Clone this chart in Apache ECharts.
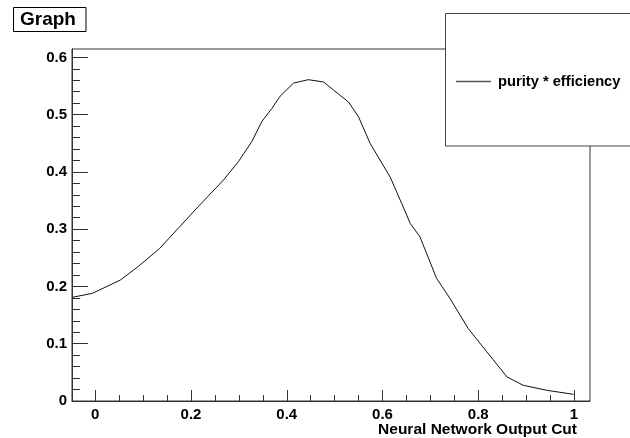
<!DOCTYPE html>
<html>
<head>
<meta charset="utf-8">
<script src="https://cdn.jsdelivr.net/npm/echarts@6/dist/echarts.min.js"></script>
<style>
  html, body { margin: 0; padding: 0; background: #fff; }
  #main { width: 630px; height: 438px; }
</style>
</head>
<body>
<div id="main"></div>
<script>
// curve
var cutValues = [-0.048, -0.006, 0.052, 0.090, 0.134, 0.176, 0.218, 0.268, 0.299, 0.327,
  0.348, 0.369, 0.386, 0.414, 0.445, 0.477, 0.4975, 0.529, 0.550, 0.574,
  0.591, 0.616, 0.640, 0.658, 0.678, 0.692, 0.713, 0.741, 0.779, 0.818,
  0.860, 0.894, 0.943, 0.999]
var purityEff = [0.181, 0.188, 0.211, 0.235, 0.266, 0.304, 0.342, 0.386, 0.418, 0.453,
  0.488, 0.511, 0.532, 0.555, 0.561, 0.557, 0.543, 0.522, 0.496, 0.450,
  0.426, 0.391, 0.345, 0.310, 0.287, 0.258, 0.214, 0.179, 0.1265, 0.0857,
  0.042, 0.0274, 0.0187, 0.0117]

var xTicks = [0, 0.2, 0.4, 0.6, 0.8, 1]
var xMinorTicks = [0.05, 0.1, 0.15, 0.25, 0.3, 0.35, 0.45, 0.5, 0.55, 0.65, 0.7, 0.75, 0.85, 0.9, 0.95]
var yTicks = [0, 0.1, 0.2, 0.3, 0.4, 0.5, 0.6]
var yMinorTicks = [0.02, 0.04, 0.06, 0.08, 0.12, 0.14, 0.16, 0.18, 0.22, 0.24, 0.26, 0.28,
  0.32, 0.34, 0.36, 0.38, 0.42, 0.44, 0.46, 0.48, 0.52, 0.54, 0.56, 0.58]

var seriesName = 'purity * efficiency'

var chart = echarts.init(document.getElementById('main'))

var points = cutValues.map(function (x, i) { return [x, purityEff[i]] })

var font = 'Liberation Sans, Arial, Helvetica, sans-serif'
var axisColor = '#333'
var xMin = -0.0486, xMax = 1.0334
var yMin = 0, yMax = 0.6146

chart.setOption({
  animation: false,
  grid: {
    left: 72, top: 49, width: 518, height: 352,
    show: true, borderColor: axisColor, borderWidth: 1, backgroundColor: 'transparent'
  },
  xAxis: [{
    type: 'value', min: xMin, max: xMax,
    axisLine: { onZero: false, lineStyle: { color: axisColor } },
    splitLine: { show: false },
    axisTick: { inside: true, length: 11, customValues: xTicks, lineStyle: { color: axisColor } },
    axisLabel: {
      customValues: xTicks, margin: 6,
      color: '#000', fontFamily: font, fontWeight: 'bold', fontSize: 15,
      formatter: function (v) { return String(v) }
    }
  }, {
    type: 'value', min: xMin, max: xMax, position: 'bottom',
    axisLine: { show: false, onZero: false },
    splitLine: { show: false },
    axisTick: { inside: true, length: 6, customValues: xMinorTicks, lineStyle: { color: axisColor } },
    axisLabel: { show: false }
  }],
  yAxis: [{
    type: 'value', min: yMin, max: yMax,
    axisLine: { show: true, onZero: false, lineStyle: { color: axisColor } },
    splitLine: { show: false },
    axisTick: { show: true, inside: true, length: 16, customValues: yTicks, lineStyle: { color: axisColor } },
    axisLabel: {
      customValues: yTicks, margin: 5,
      color: '#000', fontFamily: font, fontWeight: 'bold', fontSize: 15,
      formatter: function (v) { return String(v) }
    }
  }, {
    type: 'value', min: yMin, max: yMax, position: 'left',
    axisLine: { show: false, onZero: false },
    splitLine: { show: false },
    axisTick: { show: true, inside: true, length: 8, customValues: yMinorTicks, lineStyle: { color: axisColor } },
    axisLabel: { show: false }
  }],
  legend: {
    data: [{ name: seriesName, icon: 'rect' }],
    left: 451, top: 69, z: 20,
    itemWidth: 35, itemHeight: 1.5,
    itemStyle: { color: '#555' },
    textStyle: { color: '#000', fontFamily: font, fontWeight: 'bold', fontSize: 14.7, padding: [0, 0, 0, 2] }
  },
  graphic: [
    {
      type: 'rect', z: 10,
      shape: { x: 445.5, y: 13.5, width: 200, height: 132.5 },
      style: { fill: '#fff', stroke: '#444', lineWidth: 1 }
    },
    {
      type: 'rect', z: 10,
      shape: { x: 13.5, y: 7.5, width: 72.5, height: 24 },
      style: { fill: '#fff', stroke: '#000', lineWidth: 1 }
    },
    {
      type: 'text', z: 11, left: 20, top: 10,
      style: { text: 'Graph', fill: '#000', font: 'bold 19px ' + font }
    },
    {
      type: 'text', z: 11,
      style: {
        text: 'Neural Network Output Cut', x: 577, y: 430,
        align: 'right', verticalAlign: 'middle',
        fill: '#000', font: 'bold 15.5px ' + font
      }
    }
  ],
  series: [{
    name: seriesName,
    type: 'line',
    xAxisIndex: 0, yAxisIndex: 0,
    data: points,
    symbol: 'none',
    lineStyle: { color: '#111', width: 1 },
    itemStyle: { color: '#111' }
  }]
})
</script>
</body>
</html>
